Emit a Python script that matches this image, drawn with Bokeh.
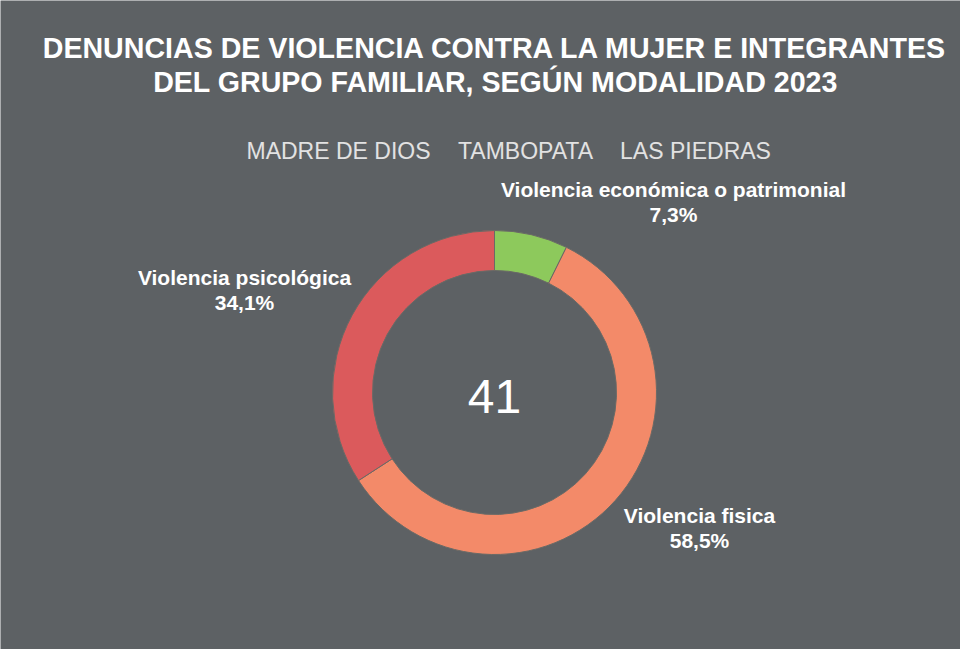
import math
from bokeh.plotting import figure
from bokeh.models import Range1d, ColumnDataSource
from bokeh.core.properties import value
from bokeh.embed import file_html
from bokeh.resources import INLINE

# ---- data ----
categories = ["Violencia económica o patrimonial", "Violencia fisica", "Violencia psicológica"]
counts = [3, 24, 14]
pct_labels = ["7,3%", "58,5%", "34,1%"]
colors = ["#8dc95c", "#f38a69", "#db5a5c"]
title_lines = ["DENUNCIAS DE VIOLENCIA CONTRA LA MUJER E INTEGRANTES",
               "DEL GRUPO FAMILIAR, SEGÚN MODALIDAD 2023"]
filters = ["MADRE DE DIOS", "TAMBOPATA", "LAS PIEDRAS"]

W, H = 960, 649
BG = "#5d6164"

p = figure(width=W, height=H, output_backend="svg", toolbar_location=None,
           x_range=Range1d(0, W), y_range=Range1d(0, H), min_border=0,
           background_fill_color=BG, border_fill_color=BG, outline_line_color=None)
p.axis.visible = False
p.xgrid.visible = False
p.ygrid.visible = False

def Y(yref):
    return 657 - yref

def X(xref):
    return xref - 8

# donut
total = sum(counts)
starts, ends = [], []
cum = 0
for c in counts:
    starts.append(math.pi / 2 - 2 * math.pi * cum / total)
    cum += c
    ends.append(math.pi / 2 - 2 * math.pi * cum / total)
src = ColumnDataSource(dict(start=starts, end=ends, color=colors))
cx, cy = X(502), Y(400)
p.annular_wedge(x=cx, y=cy, inner_radius=122, outer_radius=162,
                start_angle="start", end_angle="end", direction="clock",
                fill_color="color", line_color="#6a6a66", line_width=1, source=src)

FONT = value("Liberation Sans")

# title
p.text(x=[X(503), X(503)], y=[Y(55), Y(89)], text=title_lines,
       text_font=FONT, text_font_style="bold", text_font_size="28.6px",
       text_color="white", text_align="center", text_baseline="middle")

# filters
p.text(x=[X(346), X(533), X(703)], y=[Y(158)] * 3, text=filters,
       text_font=FONT, text_font_size="23px", text_color="#e2e2e2",
       text_align="center", text_baseline="middle")

# center total
p.text(x=[cx], y=[Y(404)], text=[str(total)], text_font=FONT,
       text_font_size="48px", text_color="white",
       text_align="center", text_baseline="middle")

# slice labels
lab_x = [X(681), X(707), X(252)]
lab_y = [Y(197), Y(523), Y(285)]
p.text(x=lab_x, y=lab_y, text=categories, text_font=FONT, text_font_style="bold",
       text_font_size="21px", text_color="white", text_align="center", text_baseline="middle")
p.text(x=lab_x, y=[v - 25 for v in lab_y], text=pct_labels, text_font=FONT, text_font_style="bold",
       text_font_size="21px", text_color="white", text_align="center", text_baseline="middle")

open("out.html", "w").write(file_html(p, INLINE))
